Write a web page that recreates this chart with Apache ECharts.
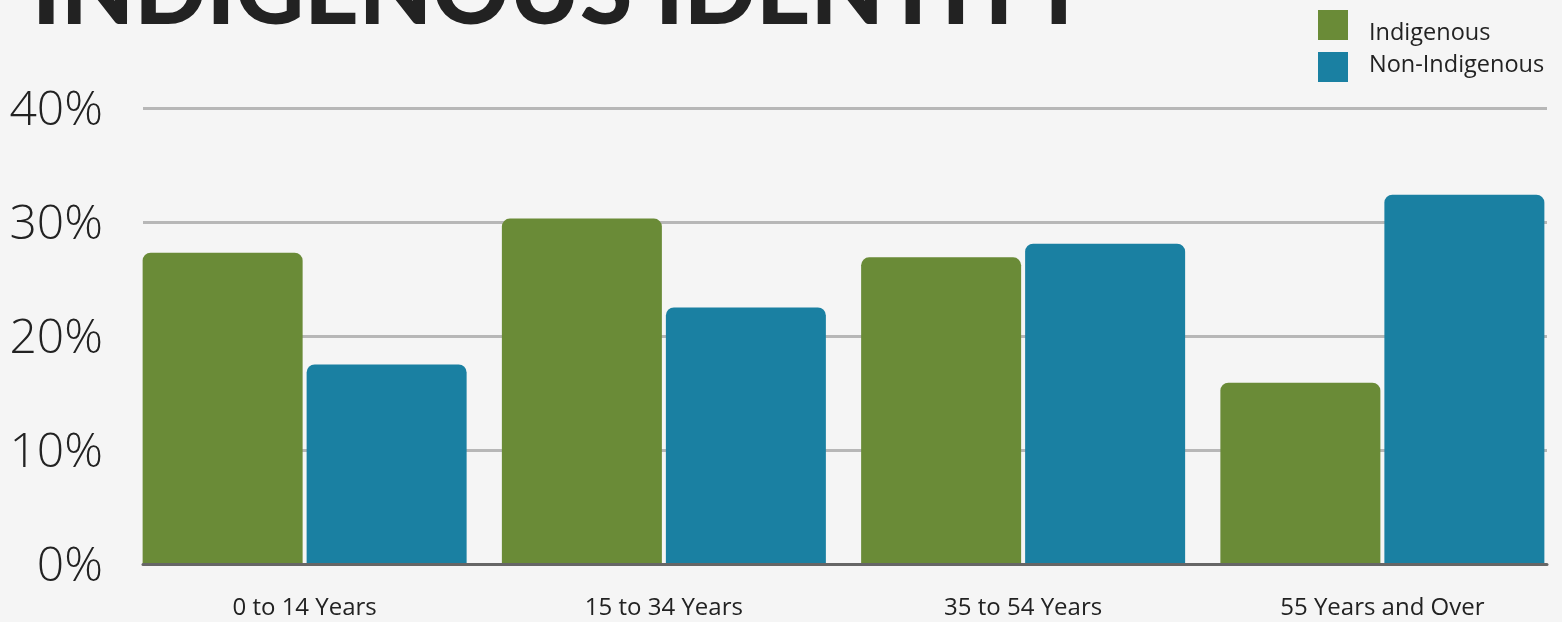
<!DOCTYPE html>
<html>
<head>
<meta charset="utf-8">
<title>Indigenous Identity</title>
<script src="https://cdn.jsdelivr.net/npm/echarts@6/dist/echarts.min.js"></script>
<style>
  html, body { margin: 0; padding: 0; background: #f5f5f5; }
  #chart { width: 1562px; height: 622px; }
</style>
</head>
<body>
<div id="chart"></div>
<script>
  // age groups
  const categories = ['0 to 14 Years', '15 to 34 Years', '35 to 54 Years', '55 Years and Over']
  // share of population (%)
  const indigenous = [27.3, 30.3, 26.9, 15.9]
  const nonIndigenous = [17.5, 22.5, 28.1, 32.4]
  const seriesNames = ['Indigenous', 'Non-Indigenous']

  const chart = echarts.init(document.getElementById('chart'))

  const textColor = '#222'
  const labelFont = '"Open Sans", "Noto Sans", sans-serif'

  chart.setOption({
    backgroundColor: '#f5f5f5',
    animation: false,
    title: {
      text: 'INDIGENOUS IDENTITY',
      left: 27,
      top: -59,
      textStyle: {
        fontFamily: 'Lato, "Open Sans", sans-serif',
        fontWeight: 900,
        fontSize: 95,
        color: '#222',
      },
    },
    legend: {
      orient: 'vertical',
      left: 1318,
      top: 10,
      padding: 0,
      itemWidth: 30,
      itemHeight: 30,
      itemGap: 7,
      icon: 'rect',
      data: seriesNames,
      // the labels sit a little off their swatches, as in the original
      formatter: (name) => (name === seriesNames[0] ? '{lo|' + name + '}' : '{hi|' + name + '}'),
      textStyle: {
        fontFamily: labelFont,
        fontSize: 23.5,
        color: textColor,
        rich: {
          lo: { fontFamily: labelFont, fontSize: 23.5, color: textColor, padding: [16, 0, 0, 16] },
          hi: { fontFamily: labelFont, fontSize: 23.5, color: textColor, padding: [0, 0, 4, 16] },
        },
      },
    },
    // grid 0 carries the gridlines and axis line, grid 1 lays out the bars
    grid: [
      { left: 143, right: 15, top: 108, bottom: 58 },
      { left: 125, width: 1440, top: 108, bottom: 58 },
    ],
    xAxis: [
      {
        gridIndex: 0,
        type: 'category',
        data: categories,
        z: 5,
        axisLabel: { show: false },
        axisTick: { show: false },
        axisLine: { lineStyle: { color: '#666', width: 3 } },
      },
      {
        gridIndex: 1,
        type: 'category',
        data: categories,
        axisLine: { show: false },
        axisTick: { show: false },
        axisLabel: {
          margin: 32,
          fontFamily: labelFont,
          fontSize: 24,
          color: textColor,
        },
      },
    ],
    yAxis: [
      {
        gridIndex: 0,
        type: 'value',
        min: 0,
        max: 40,
        interval: 10,
        axisLine: { show: false },
        axisTick: { show: false },
        axisLabel: {
          margin: 40,
          formatter: (v) => '{v|' + v + '%}',
          rich: {
            v: {
              fontFamily: labelFont,
              fontWeight: 300,
              fontSize: 48,
              color: textColor,
              padding: [7, 0, 0, 0],
            },
          },
        },
        splitLine: { lineStyle: { color: '#b7b7b7', width: 3 } },
      },
      { gridIndex: 1, type: 'value', min: 0, max: 40, show: false },
    ],
    series: [
      {
        name: seriesNames[0],
        type: 'bar',
        xAxisIndex: 1,
        yAxisIndex: 1,
        data: indigenous,
        barWidth: 160,
        barGap: '2.5%',
        itemStyle: { color: '#6a8b37', borderRadius: [8, 8, 0, 0] },
      },
      {
        name: seriesNames[1],
        type: 'bar',
        xAxisIndex: 1,
        yAxisIndex: 1,
        data: nonIndigenous,
        barWidth: 160,
        barGap: '2.5%',
        itemStyle: { color: '#1a80a2', borderRadius: [8, 8, 0, 0] },
      },
    ],
  })
</script>
</body>
</html>
